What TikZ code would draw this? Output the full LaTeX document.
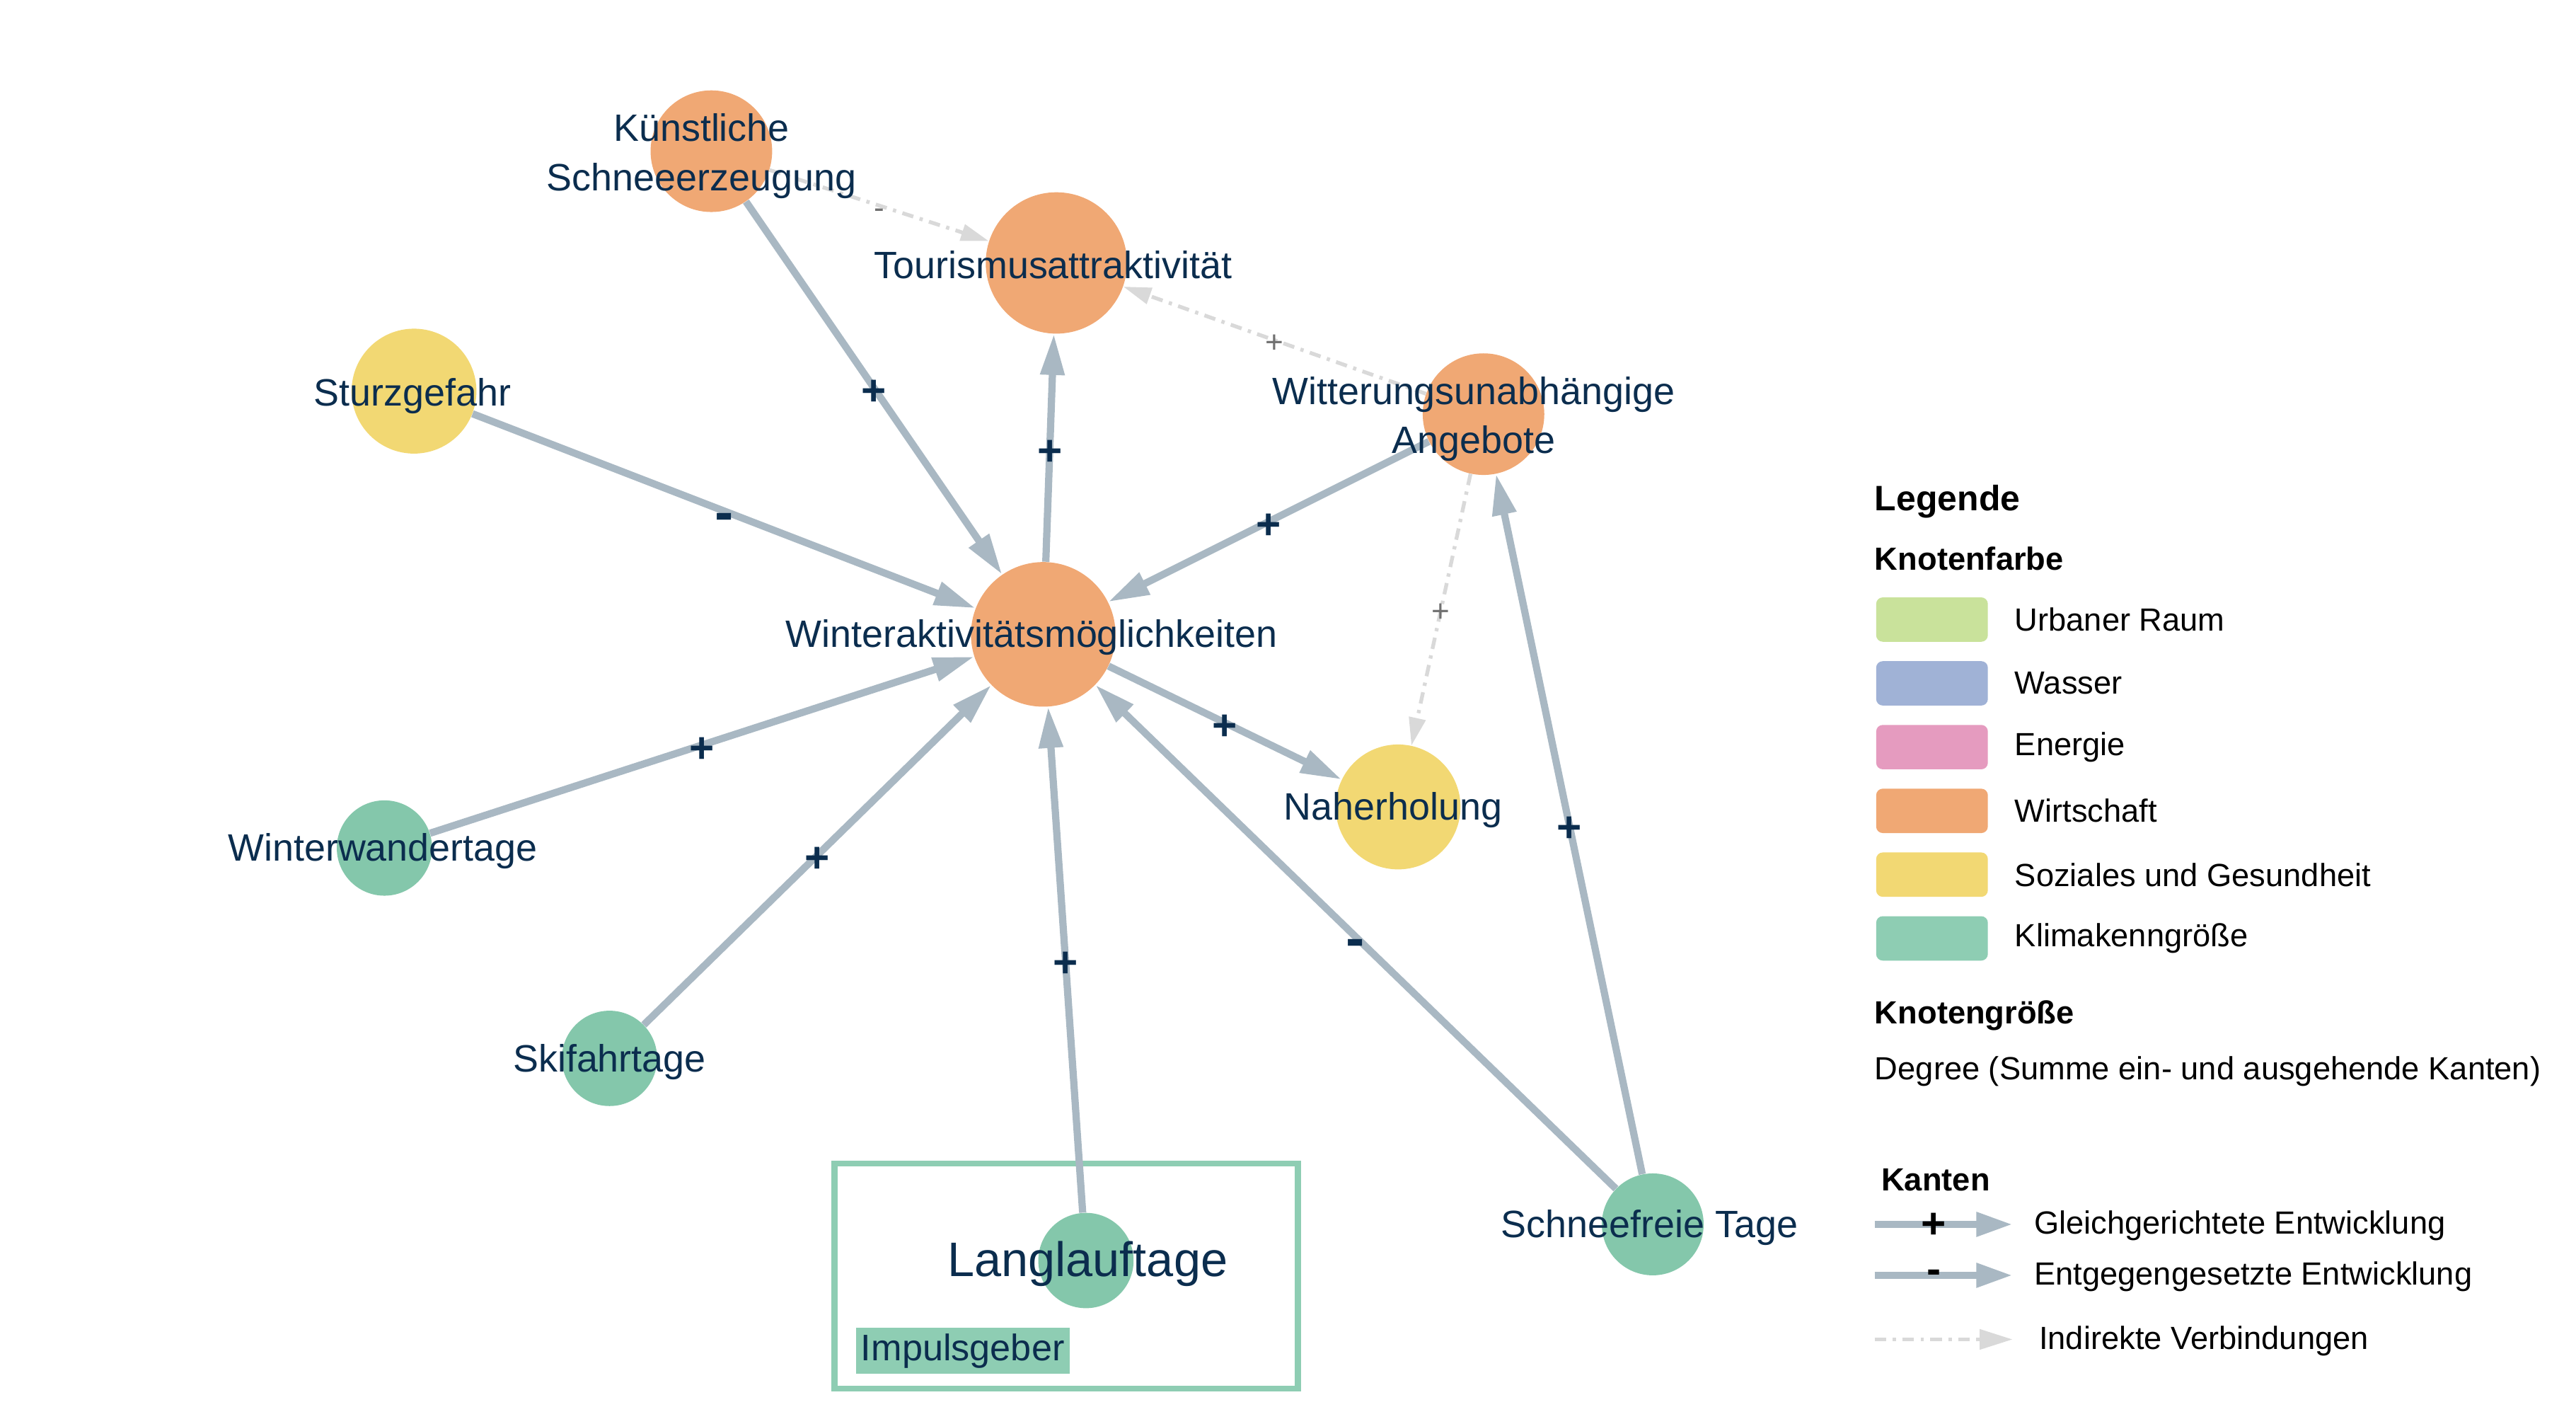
\documentclass[tikz,border=0pt]{standalone}
\usepackage{fontspec}
\setmainfont{Liberation Sans}
\usepackage{tikz}
\usetikzlibrary{positioning,calc,arrows.meta,shapes.misc}
\usepackage{xcolor}

\definecolor{wirtschaft}{HTML}{F0A874}
\definecolor{soziales}{HTML}{F2D873}
\definecolor{klima}{HTML}{84C7AB}
\definecolor{klimaL}{HTML}{8ECDB3}
\definecolor{urban}{HTML}{C9E29B}
\definecolor{wasser}{HTML}{A0B2D6}
\definecolor{energie}{HTML}{E59BBF}
\definecolor{kantenfarbe}{HTML}{A9B8C3}
\definecolor{indirektfarbe}{HTML}{D9D9D9}
\definecolor{navy}{HTML}{0B2D4E}
\definecolor{grau}{HTML}{707070}

\tikzset{
  knoten/.style={circle, draw=none, inner sep=0pt, minimum size=#1},
  beschr/.style={text=navy, font=\fontsize{23.2}{30}\selectfont, align=center, inner sep=0pt},
  kante/.style={draw=kantenfarbe, line width=4.4pt, -{Triangle[length=25pt,width=14pt]}},
  indirekt/.style={draw=indirektfarbe, line width=2.3pt, dash pattern=on 7pt off 4pt on 2pt off 4pt, -{Triangle[length=17pt,width=10pt]}},
  vz/.style={text=navy, font=\fontsize{26}{26}\selectfont\bfseries, inner sep=0pt, yshift=-3pt},
  vzminus/.style={text=navy, font=\fontsize{34}{34}\selectfont\bfseries, inner sep=0pt, yshift=-7pt},
  vzgrau/.style={text=grau, font=\fontsize{19}{19}\selectfont, inner sep=0pt, yshift=-2pt},
  legtitel/.style={anchor=west, inner sep=0pt, font=\fontsize{19.5}{22}\selectfont\bfseries},
  legtext/.style={anchor=west, inner sep=0pt, font=\fontsize{19.5}{22}\selectfont},
  feld/.style={rounded corners=4pt, minimum width=68pt, minimum height=27pt, inner sep=0pt},
}

\begin{document}
\begin{tikzpicture}[x=1pt,y=-1pt]
  \useasboundingbox (0,0) rectangle (1568,856);

  \draw[klimaL, line width=3.6pt] (508,708) rectangle (790,845);
  \node[fill=klimaL, minimum width=130pt, minimum height=28pt, inner sep=0pt, text=navy,
        font=\fontsize{22.5}{24}\selectfont] (impuls) at (586,822) {Impulsgeber};

  \node[knoten=74pt, fill=wirtschaft] (kuenstl) at (433,92) {};
  \node[knoten=86pt, fill=wirtschaft] (tourism) at (643,160) {};
  \node[knoten=76pt, fill=soziales] (sturz) at (252,238) {};
  \node[knoten=74pt, fill=wirtschaft] (witter) at (903,252) {};
  \node[knoten=88pt, fill=wirtschaft] (winter) at (635,386) {};
  \node[knoten=76pt, fill=soziales] (naherh) at (851,491) {};
  \node[knoten=58pt, fill=klima] (wandern) at (234,516) {};
  \node[knoten=58pt, fill=klima] (skifahr) at (371,644) {};
  \node[knoten=58pt, fill=klima] (langl) at (661,767) {};
  \node[knoten=62pt, fill=klima] (schneefr) at (1006,745) {};

  \draw[kante] (kuenstl) -- node[vz] {+} (winter);
  \draw[kante] (winter) -- node[vz] {+} (tourism);
  \draw[kante] (sturz) -- node[vzminus] {-} (winter);
  \draw[kante] (witter) -- node[vz] {+} (winter);
  \draw[kante] (winter) -- node[vz] {+} (naherh);
  \draw[kante] (wandern) -- node[vz] {+} (winter);
  \draw[kante] (skifahr) -- node[vz] {+} (winter);
  \draw[kante] (langl) -- node[vz] {+} (winter);
  \draw[kante] (schneefr) -- node[vzminus] {-} (winter);
  \draw[kante] (schneefr) -- node[vz] {+} (witter);

  \draw[indirekt] (kuenstl) -- node[vzgrau, yshift=-3pt] {-} (tourism);
  \draw[indirekt] (witter) -- node[vzgrau] {+} (tourism);
  \draw[indirekt] (witter) -- node[vzgrau] {+} (naherh);

  \node[beschr] at (427,95) {Künstliche\\Schneeerzeugung};
  \node[beschr] at (641,161) {Tourismusattraktivität};
  \node[beschr] at (251,241) {Sturzgefahr};
  \node[beschr] at (897,255) {Witterungsunabhängige\\Angebote};
  \node[beschr] at (628,388) {Winteraktivitätsmöglichkeiten};
  \node[beschr] at (848,493) {Naherholung};
  \node[beschr] at (233,518) {Winterwandertage};
  \node[beschr] at (371,646) {Skifahrtage};
  \node[beschr, font=\fontsize{29.5}{32}\selectfont] at (662,769) {Langlauftage};
  \node[beschr] at (1004,747) {Schneefreie Tage};

  \node[legtitel, font=\fontsize{21.5}{24}\selectfont\bfseries] (legende) at (1141,305) {Legende};
  \node[legtitel] (farbe) at (1141,340) {Knotenfarbe};
  \foreach \f/\t [count=\i] in {urban/Urbaner Raum, wasser/Wasser, energie/Energie,
      wirtschaft/Wirtschaft, soziales/Soziales und Gesundheit, klimaL/Klimakenngröße} {
    \node[feld, fill=\f] (feld\i) at (1176,{338.2+38.8*\i}) {};
    \node[legtext, right=16pt of feld\i] {\t};
  }
  \node[legtitel] (groesse) at (1141,618) {Knotengröße};
  \node[legtext] (degree) at (1141,652) {Degree (Summe ein- und ausgehende Kanten)};

  \node[legtitel] (kanten) at (1145,718) {Kanten};
  \coordinate (k1a) at (1141,745); \coordinate (k1b) at (1225,745);
  \coordinate (k2a) at (1141,776); \coordinate (k2b) at (1225,776);
  \coordinate (k3a) at (1141,815); \coordinate (k3b) at (1225,815);
  \draw[kante, -{Triangle[length=22pt,width=14pt]}] (k1a) -- node[vz, text=black, pos=0.43, yshift=2pt] {+} (k1b);
  \draw[kante, -{Triangle[length=22pt,width=14pt]}] (k2a) -- node[vz, text=black, pos=0.43, yshift=2pt] {-} (k2b);
  \draw[indirekt, -{Triangle[length=20pt,width=12pt]}] (k3a) -- (k3b);
  \node[legtext] at (1238,746) {Gleichgerichtete Entwicklung};
  \node[legtext] at (1238,777) {Entgegengesetzte Entwicklung};
  \node[legtext] at (1241,816) {Indirekte Verbindungen};
\end{tikzpicture}
\end{document}
